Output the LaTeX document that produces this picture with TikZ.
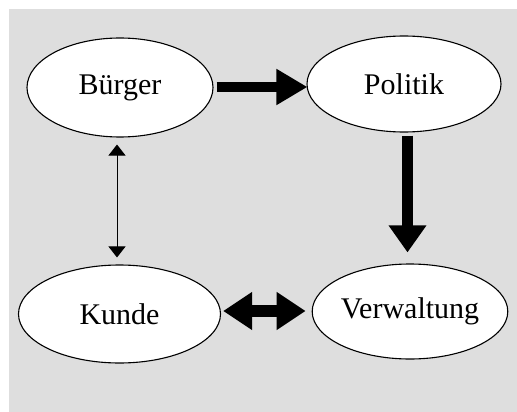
\documentclass[tikz,border=0pt]{standalone}
\usepackage{fontspec}
\setmainfont{Liberation Serif}
\usetikzlibrary{shapes.geometric,arrows.meta}
\definecolor{bg}{HTML}{DEDEDE}
\begin{document}
\begin{tikzpicture}[x=1pt,y=-1pt,
  oval/.style={ellipse,draw=black,line width=1.1pt,fill=white,inner sep=0pt,font=\fontsize{30}{33}\selectfont},
  fat/.style={line width=#1,line cap=butt},
]
\useasboundingbox (0,0) rectangle (517,412);
\fill[bg] (9,9) rectangle (517,412);
\node[oval,minimum width=186pt,minimum height=99pt] (B) at (120,87.5) {Bürger};
\node[oval,minimum width=194pt,minimum height=96pt] (P) at (404,84) {Politik};
\node[oval,minimum width=202pt,minimum height=98pt] (K) at (119.5,314) {Kunde};
\node[oval,minimum width=194pt,minimum height=95pt] (V) at (410,311.5) {Verwaltung};
% Bürger -> Politik
\draw[fat=10pt,-{Triangle[length=31pt,width=34pt]}]
  ([xshift=3pt,yshift=0.5pt]B.east) -- ([xshift=1pt,yshift=0.5pt]B.east -| P.west);
% Politik -> Verwaltung
\draw[fat=11pt,-{Triangle[length=27pt,width=36pt]}]
  ([xshift=3.5pt,yshift=-3pt]P.south) -- ([xshift=-2.5pt,yshift=11pt]V.north);
% Kunde <-> Verwaltung
\draw[fat=12pt,{Triangle[length=29pt,width=36pt]}-{Triangle[length=29pt,width=36pt]}]
  ([xshift=2pt,yshift=3pt]K.east) -- ([xshift=-6pt,yshift=3pt]K.east -| V.west);
% Bürger <-> Kunde
\draw[line width=1pt,{Triangle[length=11pt,width=17pt]}-{Triangle[length=11pt,width=17pt]}]
  ([xshift=-3pt,yshift=-7pt]B.south) -- ([xshift=-2.5pt,yshift=7pt]K.north);
\end{tikzpicture}
\end{document}
